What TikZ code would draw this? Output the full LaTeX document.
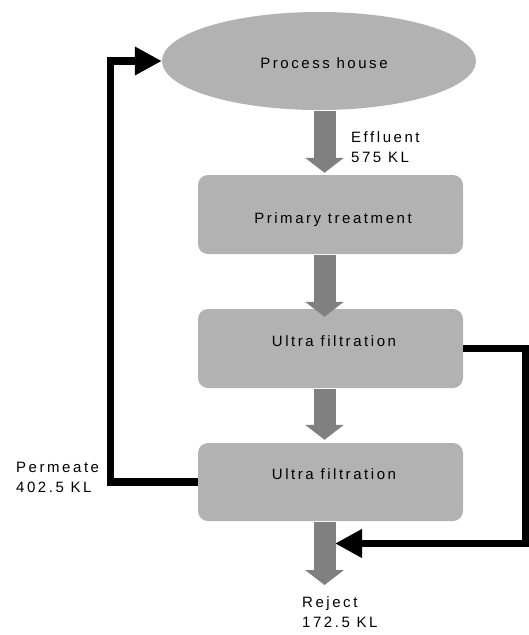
\documentclass[tikz,border=0pt]{standalone}
\usepackage{fontspec}
\setmainfont{Liberation Sans}[LetterSpace=17]
\usetikzlibrary{shapes.geometric,arrows.meta}
\definecolor{boxgray}{RGB}{178,178,178}
\definecolor{arrgray}{RGB}{128,128,128}
\begin{document}
\begin{tikzpicture}[x=1pt,y=-1pt,
  ell/.style={ellipse,fill=boxgray,draw=none,minimum width=314pt,minimum height=98pt,inner sep=0pt},
  stage/.style={rectangle,rounded corners=10pt,fill=boxgray,draw=none,minimum width=265pt,minimum height=79pt,inner sep=0pt},
  lbl/.style={inner sep=0pt,font=\fontsize{15}{20}\selectfont},
  fat/.style={draw=arrgray,line width=22pt,-{Triangle[length=15pt,width=38pt,fill=arrgray]}},
  blk/.style={draw=black,line width=7.5pt,line join=miter,-{Triangle[length=27pt,width=27pt]}}]
\useasboundingbox (0,0) rectangle (529,635);
% shapes
\node[ell] (ph) at (319,61) {};
\node[stage] (pt) at (330.5,214.5) {};
\node[stage] (u1) at (330.5,348.5) {};
\node[stage,minimum height=78pt] (u2) at (330.5,482) {};
% texts
\node[lbl,anchor=base] (phT) at (324,68) {Process house};
\node[lbl,anchor=base] (ptT) at (333,223) {Primary treatment};
\node[lbl,anchor=base] (u1T) at (334,346) {Ultra filtration};
\node[lbl,anchor=base] (u2T) at (334,479) {Ultra filtration};
\node[lbl,anchor=north west,align=left] (eff) at (351,131) {Effluent\\575 KL};
\node[lbl,anchor=north west,align=left] (perm) at (16,462) {Permeate\\402.5 KL};
\node[lbl,anchor=north west,align=left] (rej) at (302,596) {Reject\\172.5 KL};
% coordinates
\coordinate (ax) at (324.5,0);
\coordinate (rjend) at (324.5,585);
\coordinate (pc) at (110.5,61);
\coordinate (rc) at (526,543.5);
\coordinate (rjin) at (335,543.5);
% gray flow arrows
\draw[fat,shorten <=1pt,shorten >=2pt] (ph.south -| ax) -- (pt.north -| ax);
\draw[fat,shorten <=1pt,shorten >=-8pt] (pt.south -| ax) -- (u1.north -| ax);
\draw[fat,shorten <=1pt,shorten >=3pt] (u1.south -| ax) -- (u2.north -| ax);
\draw[fat,shorten <=1pt] (u2.south -| ax) -- (rjend);
% black return lines
\draw[blk] (u2.west) -| (pc) -- (ph.west);
\draw[blk] (u1.east) -| (rc) -- (rjin);
\end{tikzpicture}
\end{document}
